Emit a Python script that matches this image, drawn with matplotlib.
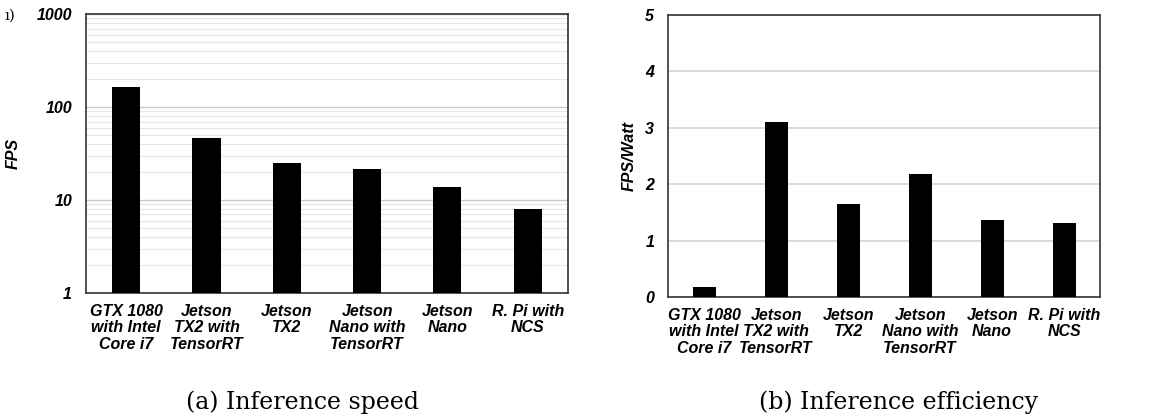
import matplotlib.pyplot as plt
import numpy as np
from matplotlib.ticker import FixedLocator, NullFormatter

devices = ["GTX 1080\nwith Intel\nCore i7", "Jetson\nTX2 with\nTensorRT", "Jetson\nTX2",
           "Jetson\nNano with\nTensorRT", "Jetson\nNano", "R. Pi with\nNCS"]
fps = [164, 46, 25, 21.5, 13.8, 8.0]
fps_per_watt = [0.17, 3.11, 1.65, 2.18, 1.37, 1.32]

tick_font = dict(family="Liberation Sans", weight="bold", style="italic", size=11.5)

fig = plt.figure(figsize=(11.71, 4.18), dpi=100)
ax1 = fig.add_axes([0.0734, 0.299, 0.4116, 0.667])
ax2 = fig.add_axes([0.5705, 0.2895, 0.369, 0.6746])

x = np.arange(len(devices))

# (a) speed, log scale
ax1.bar(x, fps, width=0.35, color="black", zorder=3)
ax1.set_yscale("log")
ax1.set_ylim(1, 1000)
ax1.set_xlim(-0.5, 5.5)
ax1.yaxis.set_major_locator(FixedLocator([1, 10, 100, 1000]))
ax1.set_yticklabels(["1", "10", "100", "1000"], fontdict=tick_font)
minor = [m * 10 ** d for d in range(3) for m in range(2, 10)]
ax1.yaxis.set_minor_locator(FixedLocator(minor))
ax1.yaxis.set_minor_formatter(NullFormatter())
ax1.grid(axis="y", which="major", color="#c8c8c8", lw=1.0, zorder=0)
ax1.grid(axis="y", which="minor", color="#e6e6e6", lw=0.8, zorder=0)
ax1.set_ylabel("FPS", fontdict=tick_font)
ax1.yaxis.set_label_coords(-0.135, 0.5)

# (b) efficiency
ax2.bar(x, fps_per_watt, width=0.32, color="black", zorder=3)
ax2.set_ylim(0, 5)
ax2.set_xlim(-0.5, 5.5)
ax2.set_yticks(range(6))
ax2.set_yticklabels([str(v) for v in range(6)], fontdict=tick_font)
ax2.grid(axis="y", color="#d4d4d4", lw=1.2, zorder=0)
ax2.set_ylabel("FPS/Watt", fontdict=tick_font)
ax2.yaxis.set_label_coords(-0.072, 0.5)

for ax in (ax1, ax2):
    ax.set_xticks(x)
    ax.set_xticklabels(devices, fontdict=tick_font, linespacing=1.1)
    ax.tick_params(axis="both", which="both", length=0, pad=10)
    ax.tick_params(axis="x", pad=8)
    for s in ax.spines.values():
        s.set_color("#333333")
        s.set_linewidth(1.2)

fig.text(0.004, 0.963, "ı)", family="DejaVu Serif", fontsize=11, va="center")
fig.text(0.2583, 0.038, "(a) Inference speed", family="DejaVu Serif", fontsize=17, ha="center", va="center")
fig.text(0.7677, 0.038, "(b) Inference efficiency", family="DejaVu Serif", fontsize=17, ha="center", va="center")

fig.savefig("out.png", dpi=100)
